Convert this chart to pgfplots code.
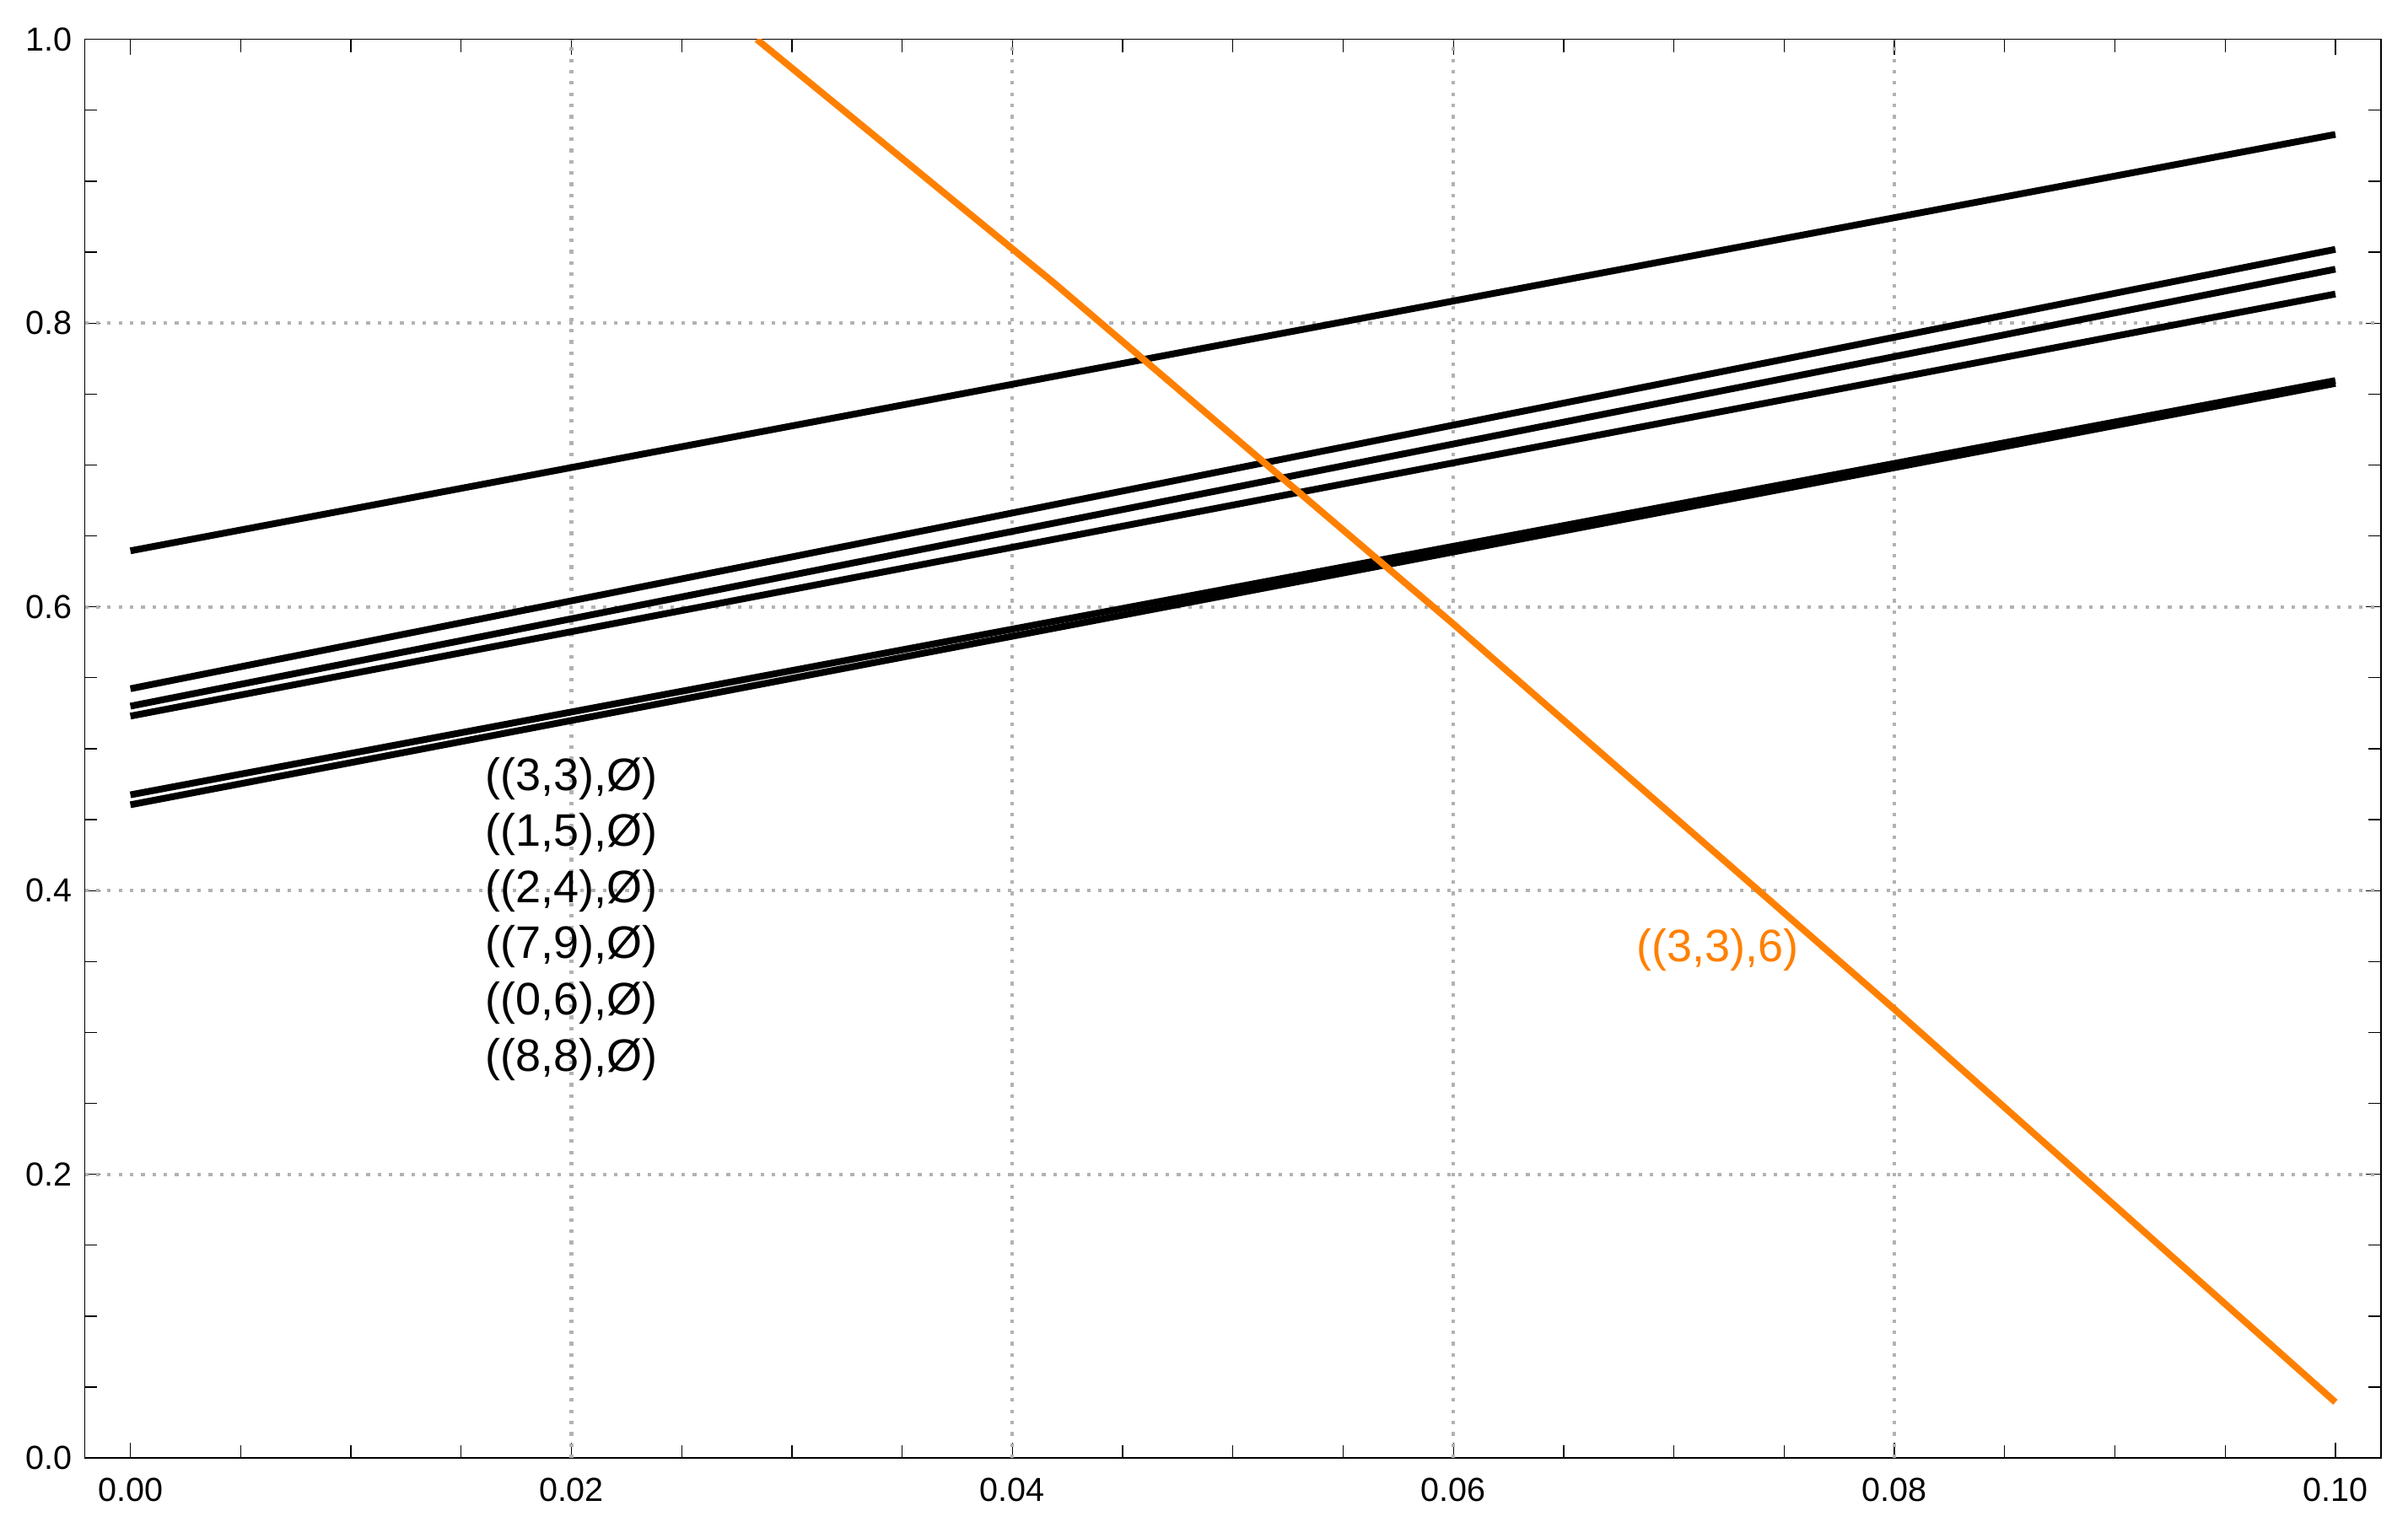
\documentclass[border=0pt]{standalone}
\usepackage{pgfplots}
\pgfplotsset{compat=1.18}
\usepackage{fontspec}
\setmainfont{Liberation Sans}
\definecolor{mmaorange}{rgb}{1,0.5,0}
\definecolor{gridgray}{RGB}{178,178,178}
\begin{document}
\begin{tikzpicture}
\begin{axis}[
  scale only axis, width=544.5bp, height=336.5bp,
  xmin=-0.00207, xmax=0.10207, ymin=0, ymax=1,
  axis line style={line width=0.3bp, black},
  scaled x ticks=false, scaled y ticks=false,
  xtick={0,0.02,0.04,0.06,0.08,0.1},
  minor xtick={0.005,0.01,0.015,0.025,0.03,0.035,0.045,0.05,0.055,0.065,0.07,0.075,0.085,0.09,0.095},
  ytick={0,0.2,0.4,0.6,0.8,1},
  minor ytick={0.05,0.1,0.15,0.25,0.3,0.35,0.45,0.5,0.55,0.65,0.7,0.75,0.85,0.9,0.95},
  tick align=inside,
  xtick pos=both, ytick pos=both,
  major tick length=3.7bp, minor tick length=3bp,
  every tick/.style={black, line width=0.25bp},
  /pgf/number format/assume math mode=true,
  tick label style={font=\fontsize{7.9bp}{9.5bp}\selectfont},
  xticklabel={\pgfmathprintnumber[fixed,fixed zerofill,precision=2]{\tick}},
  yticklabel={\pgfmathprintnumber[fixed,fixed zerofill,precision=1]{\tick}},
  xticklabel style={inner sep=0pt, yshift=-4.5bp},
  yticklabel style={inner sep=0pt, xshift=-2.8bp},
]
% grid lines (dotted, gray) at interior major ticks
\draw[gridgray, line width=0.85bp, dash pattern=on 0.85bp off 1.82bp] (axis cs:0.02,0) -- (axis cs:0.02,1);
\draw[gridgray, line width=0.85bp, dash pattern=on 0.85bp off 1.82bp] (axis cs:0.04,0) -- (axis cs:0.04,1);
\draw[gridgray, line width=0.85bp, dash pattern=on 0.85bp off 1.82bp] (axis cs:0.06,0) -- (axis cs:0.06,1);
\draw[gridgray, line width=0.85bp, dash pattern=on 0.85bp off 1.82bp] (axis cs:0.08,0) -- (axis cs:0.08,1);
\draw[gridgray, line width=0.85bp, dash pattern=on 0.85bp off 1.82bp] (axis cs:-0.00207,0.2) -- (axis cs:0.10207,0.2);
\draw[gridgray, line width=0.85bp, dash pattern=on 0.85bp off 1.82bp] (axis cs:-0.00207,0.4) -- (axis cs:0.10207,0.4);
\draw[gridgray, line width=0.85bp, dash pattern=on 0.85bp off 1.82bp] (axis cs:-0.00207,0.6) -- (axis cs:0.10207,0.6);
\draw[gridgray, line width=0.85bp, dash pattern=on 0.85bp off 1.82bp] (axis cs:-0.00207,0.8) -- (axis cs:0.10207,0.8);

\addplot[black, line width=1.6bp, no marks] coordinates {(0,0.6395) (0.1,0.933)};
\addplot[black, line width=1.6bp, no marks] coordinates {(0,0.5423) (0.1,0.852)};
\addplot[black, line width=1.6bp, no marks] coordinates {(0,0.5300) (0.1,0.838)};
\addplot[black, line width=1.6bp, no marks] coordinates {(0,0.5230) (0.1,0.8205)};
\addplot[black, line width=1.6bp, no marks] coordinates {(0,0.4675) (0.1,0.7595)};
\addplot[black, line width=1.6bp, no marks] coordinates {(0,0.4605) (0.1,0.7575)};

\addplot[mmaorange, line width=1.6bp, no marks, line join=round] coordinates {
  (0.02841,1.0) (0.04194,0.8276) (0.05342,0.6751) (0.06,0.5879) (0.08,0.3164) (0.1,0.0394)};

\node[font=\fontsize{10.8bp}{13bp}\selectfont, inner sep=0pt] at (axis cs:0.02,0.4790) {((3,3),Ø)};
\node[font=\fontsize{10.8bp}{13bp}\selectfont, inner sep=0pt] at (axis cs:0.02,0.4396) {((1,5),Ø)};
\node[font=\fontsize{10.8bp}{13bp}\selectfont, inner sep=0pt] at (axis cs:0.02,0.4000) {((2,4),Ø)};
\node[font=\fontsize{10.8bp}{13bp}\selectfont, inner sep=0pt] at (axis cs:0.02,0.3604) {((7,9),Ø)};
\node[font=\fontsize{10.8bp}{13bp}\selectfont, inner sep=0pt] at (axis cs:0.02,0.3208) {((0,6),Ø)};
\node[font=\fontsize{10.8bp}{13bp}\selectfont, inner sep=0pt] at (axis cs:0.02,0.2812) {((8,8),Ø)};
\node[font=\fontsize{10.8bp}{13bp}\selectfont, inner sep=0pt, text=mmaorange] at (axis cs:0.0720,0.358) {((3,3),6)};
\end{axis}
\path[use as bounding box] ([xshift=-20.1bp,yshift=-15bp]current axis.south west) rectangle ([xshift=6.4bp,yshift=9.34bp]current axis.north east);
\end{tikzpicture}
\end{document}
